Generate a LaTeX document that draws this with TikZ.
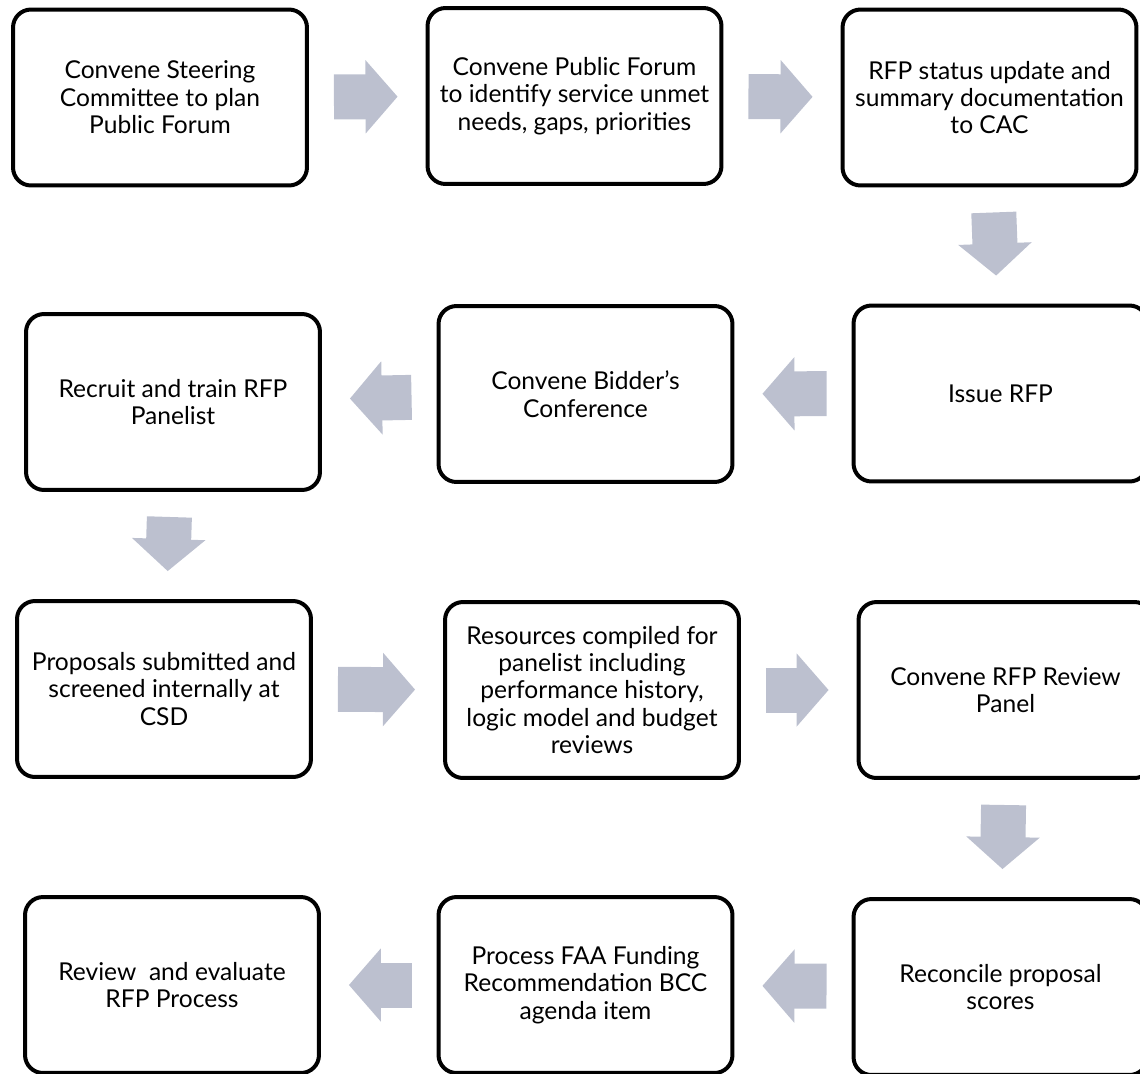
\documentclass[tikz,border=0pt]{standalone}
\usepackage{fontspec}
\setmainfont{Lato}
\usetikzlibrary{arrows.meta}
\definecolor{arrowgray}{RGB}{188,192,207}

\begin{document}
\begin{tikzpicture}[x=0.02cm,y=-0.02cm,
  stepbox/.style={rectangle,rounded corners=0.36cm,draw=black,line width=0.08cm,
    minimum width=5.88cm,minimum height=3.52cm,inner sep=0pt,align=center,
    font=\fontsize{14pt}{15.6pt}\selectfont},
  flowarrow/.style={draw=arrowgray,line width=0.9cm,shorten <=0.5cm,shorten >=0.56cm,
    -{Triangle[length=0.64cm,width=1.46cm,line width=1.5pt]}}]
% \draw[help lines] (0,0) grid[step=100] (1140,1073);
\useasboundingbox (0,0) rectangle (1140,1073);
% row 1
\node (s1) [stepbox] at (160,97.5) {Convene Steering\\Committee to plan\\Public Forum};
\node (s2) [stepbox] at (574.5,96) {Convene Public Forum\\to identify service unmet\\needs, gaps, priorities};
\node (s3) [stepbox] at (989.5,97.5) {RFP status update and\\summary documentation\\to CAC};
% row 2
\node (s4) [stepbox] at (1000.5,393.5) {Issue RFP};
\node (s5) [stepbox] at (585.5,394) {Convene Bidder’s\\Conference};
\node (s6) [stepbox] at (173,402) {Recruit and train RFP\\Panelist};
% row 3
\node (s7) [stepbox] at (164,689) {Proposals submitted and\\screened internally at\\CSD};
\node (s8) [stepbox] at (592,690) {Resources compiled for\\panelist including\\performance history,\\logic model and budget\\reviews};
\node (s9) [stepbox] at (1005.5,690) {Convene RFP Review\\Panel};
% row 4
\node (s10) [stepbox] at (1000.5,987) {Reconcile proposal\\scores};
\node (s11) [stepbox] at (585.5,985) {Process FAA Funding\\Recommendation BCC\\agenda item};
\node (s12) [stepbox] at (172,985) {Review\ \ and evaluate\\RFP Process};
%
\draw[flowarrow] (s1) -- (s2);
\draw[flowarrow] (s2) -- (s3);
\draw[flowarrow] (s3) -- (s4);
\draw[flowarrow] (s4) -- (s5);
\draw[flowarrow] (s5) -- (s6);
\draw[flowarrow] (s6) -- (s7);
\draw[flowarrow] (s7) -- (s8);
\draw[flowarrow] (s8) -- (s9);
\draw[flowarrow] (s9) -- (s10);
\draw[flowarrow] (s10) -- (s11);
\draw[flowarrow] (s11) -- (s12);
\end{tikzpicture}
\end{document}
